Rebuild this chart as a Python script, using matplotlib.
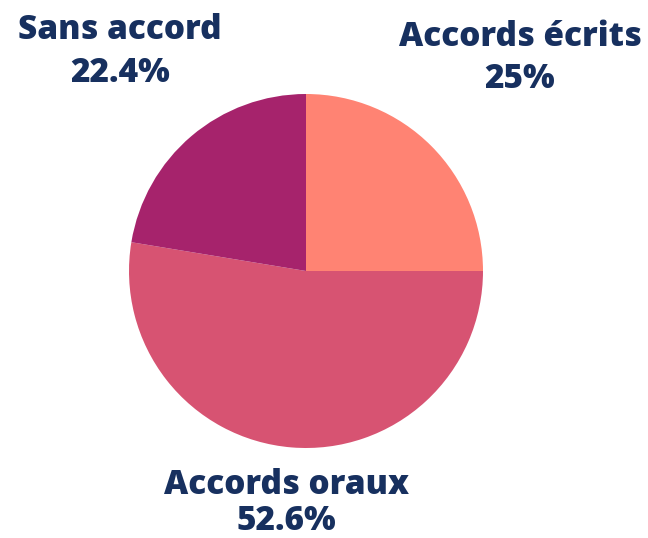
import matplotlib
matplotlib.use("Agg")
import matplotlib.pyplot as plt

categories = ["Accords écrits", "Accords oraux", "Sans accord"]
values = [25.0, 52.6, 22.4]
value_labels = ["25%", "52.6%", "22.4%"]
colors = ["#FF8373", "#D75372", "#A6236C"]
text_color = "#17305F"

W, H = 648, 538
fig = plt.figure(figsize=(W / 100, H / 100), dpi=100)
fig.patch.set_facecolor("white")

cx, cy, r = 306, 271, 177
ax = fig.add_axes([(cx - r) / W, (H - cy - r) / H, 2 * r / W, 2 * r / H])
ax.pie(values, colors=colors, startangle=90, counterclock=False, radius=1,
       wedgeprops=dict(linewidth=0))
ax.set_xlim(-1, 1)
ax.set_ylim(-1, 1)
ax.set_aspect("equal")
ax.axis("off")

# label positions in pixels (center x, first-line y, second-line y)
label_pos = {"Accords écrits": (520, 37, 79), "Accords oraux": (286, 485, 521), "Sans accord": (120, 30, 73)}
for cat, lab in zip(categories, value_labels):
    x, y1, y2 = label_pos[cat]
    for txt, y in ((cat, y1), (lab, y2)):
        fig.text(x / W, 1 - y / H, txt, ha="center", va="center", fontsize=24,
                 fontweight=800, color=text_color, family=["Open Sans", "DejaVu Sans"])

fig.savefig("out.png", dpi=100, facecolor="white")
